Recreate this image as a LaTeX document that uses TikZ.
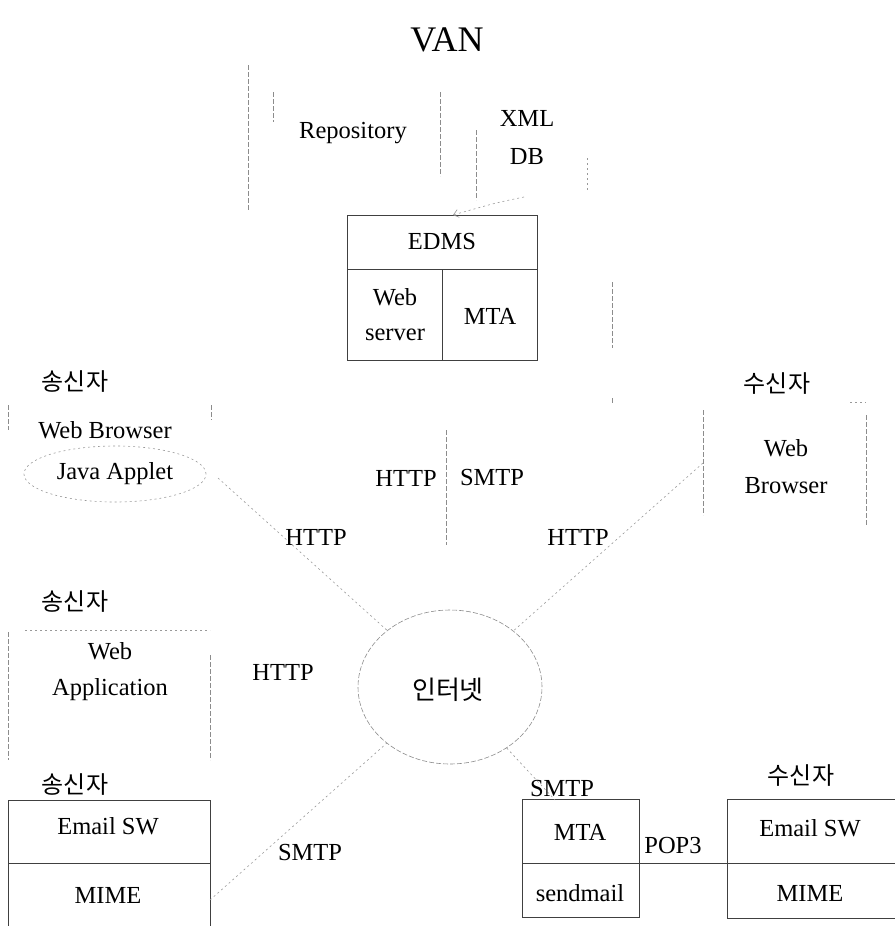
\documentclass[tikz,border=0pt]{standalone}
\usepackage{fontspec}
\setmainfont{Liberation Serif}
\newfontfamily\kr{Noto Sans CJK KR}
\usetikzlibrary{shapes.geometric,arrows.meta}
\begin{document}
\begin{tikzpicture}[x=1pt,y=-1pt,
  lbl/.style={font=\fontsize{24.5}{28}\selectfont, inner sep=0pt},
  krl/.style={font=\kr\fontsize{24}{28}\selectfont, inner sep=0pt},
  solidbox/.style={draw=black!75, line width=0.8pt, inner sep=0pt},
  faint/.style={draw=black!45, line width=0.6pt, dash pattern=on 5pt off 2pt},
  faintdot/.style={draw=black!40, line width=0.6pt, dash pattern=on 2pt off 3pt}]
\useasboundingbox (0,0) rectangle (894,926);

% title
\node[lbl, font=\fontsize{36}{40}\selectfont] (van) at (447,40) {VAN};

% VAN region fragments
\draw[faint] (248,65) -- (248,210);
\draw[faint] (612,282) -- (612,348);
\draw[faint] (612,398) -- (612,404);

% Repository
\draw[faint] (273,92) -- (273,122);
\draw[faint] (440,92) -- (440,176);
\node[lbl] (repo) at (353,133) {Repository};

% XML DB
\draw[faint] (476,130) -- (476,200);
\draw[faintdot] (587,158) -- (587,190);
\node[lbl] (xml) at (527,118) {XML};
\node[lbl] (db) at (527,157) {DB};
\coordinate (xmlb) at (524,197);
\coordinate (edmsin) at (453,215);

% EDMS box
\node[solidbox, minimum width=190pt, minimum height=145pt] (edms) at (442,287.5) {};
\draw[solidbox] (347,269) -- (537,269);
\draw[solidbox] (442,269) -- (442,360);
\node[lbl] (edmst) at (442,242) {EDMS};
\node[lbl] (websrv1) at (395,297) {Web};
\node[lbl] (websrv2) at (395,335) {server};
\node[lbl] (mta1) at (490,316) {MTA};
\draw[faintdot, -{Straight Barb[length=5pt,width=8pt]}] (xmlb) .. controls (495,203) .. (edmsin);

% central link
\coordinate (ctop) at (446,430);
\coordinate (cbot) at (446,545);
\draw[faint] (ctop) -- (cbot);
\node[lbl] (chttp) at (406,478) {HTTP};
\node[lbl] (csmtp) at (492,478) {SMTP};

% sender 1
\node[krl] (s1) at (75,382) {송신자};
\draw[faint] (8,405) -- (8,430);
\draw[faint] (211,405) -- (211,420);
\node[lbl] (wb1) at (105,430) {Web Browser};
\node[ellipse, faintdot, minimum width=182pt, minimum height=56pt, inner sep=0pt] (japp) at (115,474) {};
\node[lbl] (jappt) at (115,474) {Java Applet};
\coordinate (ja) at (218,478);

% internet
\node[ellipse, faint, minimum width=184pt, minimum height=154pt] (net) at (450,687) {};
\node[krl, font=\kr\fontsize{26}{30}\selectfont] (nett) at (448,690) {인터넷};

\draw[faintdot] (ja) -- (net);
\node[lbl] (h1) at (316,537) {HTTP};

% receiver 1
\node[krl] (r1) at (777,384) {수신자};
\draw[faint] (703,410) -- (703,515);
\draw[faint] (866,415) -- (866,525);
\draw[faintdot] (850,402) -- (866,402);
\node[lbl] (wb2a) at (786,448) {Web};
\node[lbl] (wb2b) at (786,486) {Browser};
\coordinate (rb) at (703,463);
\draw[faintdot] (rb) -- (net);
\node[lbl] (h2) at (578,537) {HTTP};

% sender 2
\node[krl] (s2) at (75,602) {송신자};
\draw[faint] (8,632) -- (8,760);
\draw[faint] (210,655) -- (210,760);
\draw[faintdot] (25,630) -- (210,630);
\node[lbl] (waa) at (110,651) {Web};
\node[lbl] (wab) at (110,690) {Application};
\node[lbl] (h3) at (283,672) {HTTP};

% sender 3
\node[krl] (s3) at (75,785) {송신자};
\draw[solidbox] (8,930) -- (8,800) -- (210,800) -- (210,930);
\draw[solidbox] (8,863) -- (210,863);
\node[lbl] (em1) at (108,826) {Email SW};
\node[lbl] (mime1) at (108,895) {MIME};
\coordinate (se) at (210,900);
\draw[faintdot] (se) -- (net);
\node[lbl] (sm1) at (310,852) {SMTP};

% receiver MTA
\node[solidbox, minimum width=117pt, minimum height=118pt] (mta) at (580.5,858) {};
\draw[solidbox] (522,863) -- (639,863);
\node[lbl] (mtat) at (580,832) {MTA};
\node[lbl] (sendm) at (580,893) {sendmail};
\coordinate (mtain) at (555,800);
\draw[faintdot] (net) -- (mtain);
\node[lbl] (sm2) at (562,788) {SMTP};

% receiver email
\node[krl] (r2) at (801,776) {수신자};
\draw[solidbox] (900,799) -- (727,799) -- (727,918) -- (900,918);
\draw[solidbox] (727,863) -- (900,863);
\node[lbl] (em2) at (810,828) {Email SW};
\node[lbl] (mime2) at (810,893) {MIME};
\coordinate (pa) at (639,863);
\coordinate (pb) at (727,863);
\draw[solidbox] (pa) -- (pb);
\node[lbl] (pop) at (673,845) {POP3};
\end{tikzpicture}
\end{document}
